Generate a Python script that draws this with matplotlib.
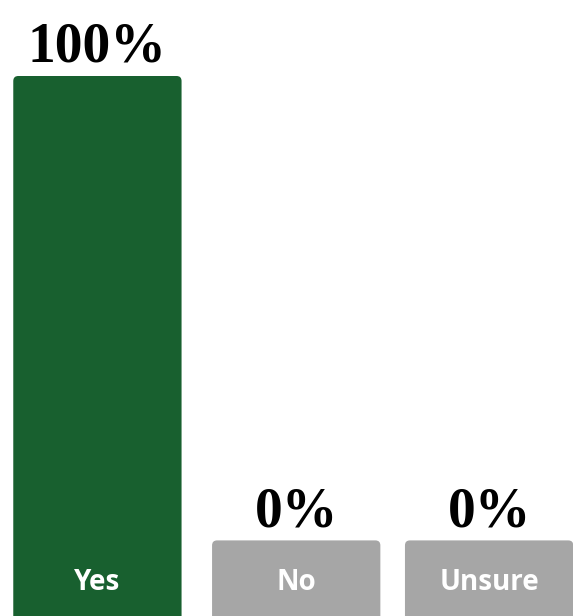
import matplotlib
matplotlib.use("Agg")
import matplotlib.pyplot as plt
from matplotlib.patches import FancyBboxPatch

categories = ["Yes", "No", "Unsure"]
values = [100, 0, 0]
pct_labels = ["100%", "0%", "0%"]
colors = ["#18602f", "#a6a6a6", "#a6a6a6"]

W, H = 573, 616
fig = plt.figure(figsize=(W / 100, H / 100), dpi=100)
ax = fig.add_axes([0, 0, 1, 1])

step = 197.0           # px between bar centres
min_h = 14.0           # floor so 0% bars still show a tab
xpos = [0, 1.01, 1.99]
ax.set_xlim(-97.5 / step, 2 + (W - 491) / step)
ax.set_ylim(0, H / 540 * 100)
ax.axis("off")

px_x = step                      # px per x unit
px_y = 540 / 100                 # px per y unit
r = 5                            # corner radius, px

for x, v, lab, pct, c in zip(xpos, values, categories, pct_labels, colors):
    h = max(v, min_h)
    w = 0.855
    box = FancyBboxPatch((x - w / 2, -5), w, h + 5,
                         boxstyle="round,pad=0,rounding_size=%f" % (r / px_x),
                         mutation_aspect=(r / px_y) / (r / px_x),
                         facecolor=c, edgecolor="none")
    ax.add_patch(box)
    ax.text(x, (616 - 583) / px_y, lab, ha="center", va="center",
            color="white", fontsize=20, fontweight="bold", family="Open Sans")
    ax.text(x, h + 14 / px_y, pct, ha="center", va="baseline",
            color="black", fontsize=40, fontweight="bold", family="Liberation Serif")

fig.savefig("out.png", dpi=100)
